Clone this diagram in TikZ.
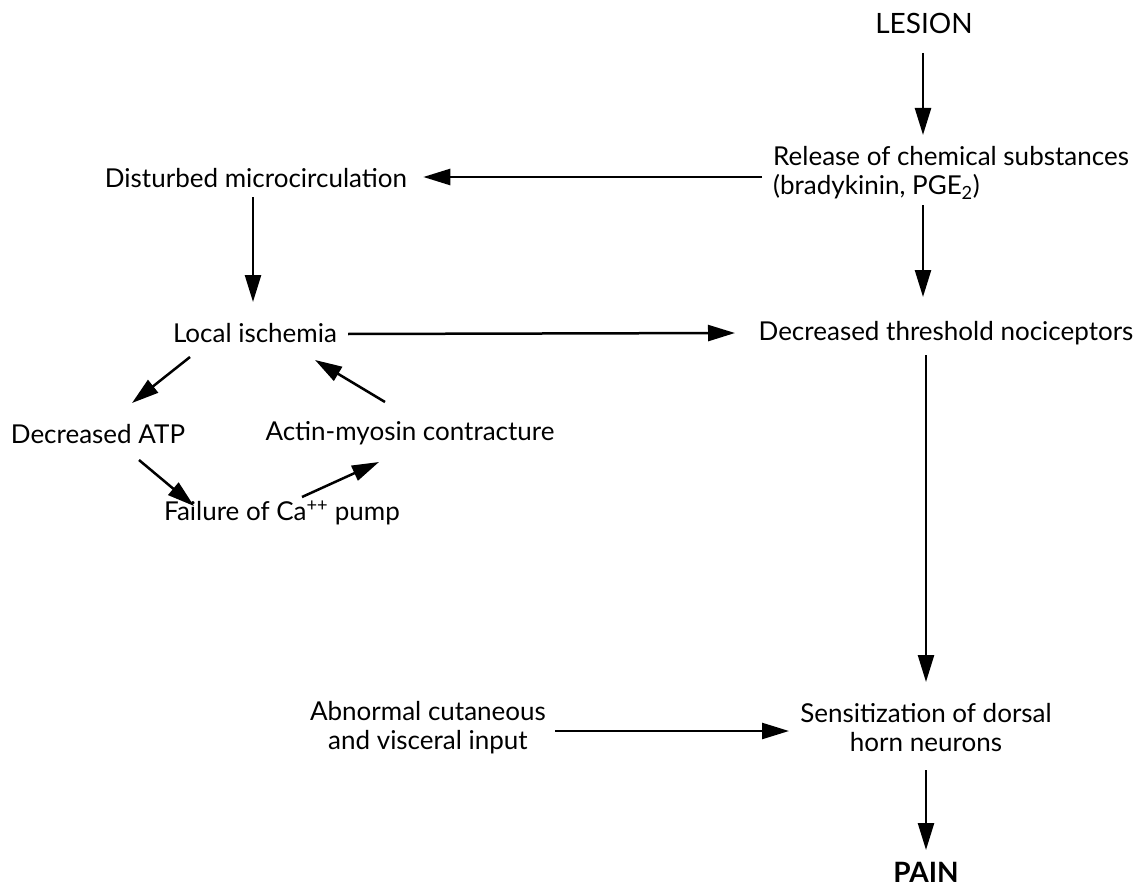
\documentclass[tikz,border=0pt]{standalone}
\usepackage{fontspec}
\setmainfont{Lato}
\usetikzlibrary{arrows.meta,calc}
\begin{document}
\begin{tikzpicture}[x=1pt,y=-1pt,
  lbl/.style={inner sep=0pt,font=\fontsize{26}{29}\selectfont},
  arr/.style={line width=2.5pt,-{Triangle[length=27pt,width=16pt]}}]
\useasboundingbox[fill=white] (0,0) rectangle (1138,888);
\node[lbl,font=\fontsize{28}{30}\selectfont] (lesion) at (924,23) {LESION};
\node[lbl,align=left,anchor=west] (rel) at (773,173) {Release of chemical substances\\(bradykinin, PGE\textsubscript{2})};
\node[lbl] (dist) at (256,178) {Disturbed microcirculation};
\node[lbl] (li) at (255,333) {Local ischemia};
\node[lbl] (dtn) at (946,333) {Decreased threshold nociceptors};
\node[lbl] (datp) at (98,434) {Decreased ATP};
\node[lbl] (amc) at (410,433) {Actin-myosin contracture};
\node[lbl] (fcp) at (282,513) {Failure of Ca\textsuperscript{++} pump};
\node[lbl,align=center] (abn) at (428,728) {Abnormal cutaneous\\and visceral input};
\node[lbl,align=center] (sens) at (926,728) {Sensitization of dorsal\\horn neurons};
\node[lbl,font=\fontsize{28}{30}\selectfont\bfseries] (pain) at (926,872) {PAIN};

\draw[arr] ($(lesion)+(-1,30)$) -- ($(lesion)+(-1,112)$);
\draw[arr] ($(rel.west)+(-11,4)$) -- ($(dist.east)+(16,-1)$);
\draw[arr] ($(lesion)+(-1,182)$) -- ($(lesion)+(-1,274)$);
\draw[arr] ($(dist)+(-3,19)$) -- ($(li)+(-2,-31)$);
\draw[arr] ($(li)+(93,1)$) -- ($(dtn)+(-211,0)$);
\draw[arr] ($(dtn)+(-20,22)$) -- ($(sens)+(0,-46)$);
\draw[arr] ($(abn)+(127,3)$) -- ($(sens)+(-137,3)$);
\draw[arr] ($(sens)+(0,42)$) -- ($(pain)+(0,-22)$);
\draw[arr] ($(li)+(-65,24)$) -- ($(datp)+(34,-31)$);
\draw[arr] ($(amc)+(-25,-31)$) -- ($(li)+(60,27)$);
\draw[arr] ($(datp)+(41,26)$) -- ($(fcp)+(-88,-7)$);
\draw[arr] ($(fcp)+(20,-16)$) -- ($(amc)+(-31,29)$);
\end{tikzpicture}
\end{document}
